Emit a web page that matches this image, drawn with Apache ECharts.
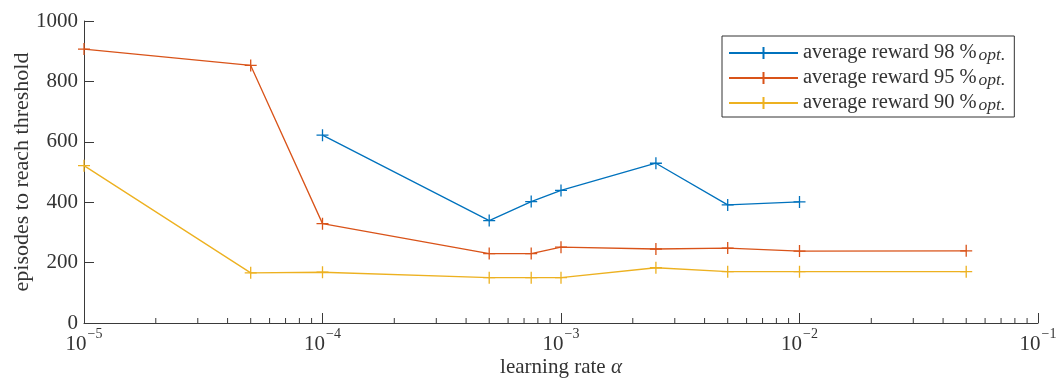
<!DOCTYPE html>
<html>
<head>
<meta charset="utf-8">
<script src="https://cdn.jsdelivr.net/npm/echarts@6/dist/echarts.min.js"></script>
<style>
  html, body { margin: 0; padding: 0; background: #fff; }
  #chart { width: 1058px; height: 378px; }
</style>
</head>
<body>
<div id="chart"></div>
<script>
// Learning rates tested (log scale)
const learningRates = [1e-5, 5e-5, 1e-4, 5e-4, 7.5e-4, 1e-3, 2.5e-3, 5e-3, 1e-2, 5e-2];

// Episodes needed to reach each reward threshold (null = threshold never reached)
const reward98 = [null, null, 622, 339, 402, 439, 529, 391, 401, null];
const reward95 = [907, 853, 329, 230, 230, 251, 245, 248, 238, 239];
const reward90 = [521, 166, 168, 150, 150, 150, 183, 170, 170, 170];

const seriesNames = ['98', '95', '90'];
const seriesColors = ['#0072BD', '#D95319', '#EDB120'];

// Chosen learning rate, marked with a vertical line
const chosenRate = 5e-4;

// Minor ticks of the log axis: 2..9 × 10^k
const minorTickValues = [];
for (let k = -5; k <= -2; k++) {
  for (let m = 2; m <= 9; m++) minorTickValues.push(m * Math.pow(10, k));
}

const yTicks = { min: 0, max: 1000, interval: 200 };

const FONT = '"Liberation Serif", "Times New Roman", serif';
const TXT = '#333333';
const AXIS = '#3a3a3a';
const PLUS = 'path://M0,5L10,5M5,0L5,10';

function pairs(values) {
  return learningRates.map((x, i) => [x, values[i]]).filter(p => p[1] !== null);
}

const allValues = [reward98, reward95, reward90];

const lineSeries = allValues.map((vals, i) => ({
  name: 'r' + seriesNames[i],
  type: 'line',
  data: pairs(vals),
  symbol: PLUS,
  symbolSize: 12,
  showSymbol: true,
  lineStyle: { color: seriesColors[i], width: 1.3 },
  itemStyle: { color: seriesColors[i], borderColor: seriesColors[i], borderWidth: 1.3 },
  emphasis: { disabled: true },
  z: 3 + (2 - i),
  animation: false
}));

// Vertical reference line at the chosen learning rate
lineSeries[0].markLine = {
  silent: true,
  symbol: ['none', 'none'],
  label: { show: false },
  lineStyle: { color: '#808080', width: 1, type: 'solid' },
  data: [{ xAxis: chosenRate }],
  animation: false
};

const minorTickSeries = {
  type: 'custom',
  silent: true,
  data: minorTickValues.map(v => [v, 0]),
  renderItem: function (params, api) {
    const p = api.coord([api.value(0), api.value(1)]);
    return {
      type: 'line',
      shape: { x1: p[0], y1: p[1], x2: p[0], y2: p[1] - 5 },
      style: { stroke: AXIS, lineWidth: 1 }
    };
  },
  z: 2,
  animation: false
};

const chart = echarts.init(document.getElementById('chart'), null, { renderer: 'canvas' });

chart.setOption({
  backgroundColor: '#ffffff',
  animation: false,
  grid: { left: 84, right: 20, top: 21, bottom: 55, containLabel: false, outerBoundsMode: 'none' },
  legend: {
    orient: 'vertical',
    left: 722,
    top: 36,
    data: lineSeries.map(s => s.name),
    itemWidth: 69,
    itemHeight: 15,
    itemGap: 1,
    padding: [4, 9, 3, 6],
    borderColor: '#333333',
    borderWidth: 1,
    backgroundColor: '#ffffff',
    selectedMode: false,
    formatter: function (name) {
      return '{n|average reward ' + name.slice(1) + ' %}{o|opt.}';
    },
    textStyle: {
      color: TXT,
      fontFamily: FONT,
      lineHeight: 22,
      rich: {
        n: { fontFamily: FONT, fontSize: 20.5, color: TXT, lineHeight: 22, verticalAlign: 'middle' },
        o: { fontFamily: FONT, fontSize: 17.5, fontStyle: 'italic', color: TXT, lineHeight: 12, verticalAlign: 'bottom', padding: [6, 0, 0, 2] }
      }
    }
  },
  xAxis: {
    type: 'log',
    logBase: 10,
    min: 1e-5,
    max: 1e-1,
    splitNumber: 4,
    name: '{a|learning rate }{g|α}',
    nameLocation: 'middle',
    nameGap: 34,
    nameMoveOverlap: false,
    nameTextStyle: {
      color: TXT,
      fontFamily: FONT,
      rich: {
        a: { fontFamily: FONT, fontSize: 21, color: TXT },
        g: { fontFamily: FONT, fontSize: 21, fontStyle: 'italic', color: TXT }
      }
    },
    axisLine: { show: true, lineStyle: { color: AXIS, width: 1 } },
    axisTick: { show: true, inside: true, length: 10, lineStyle: { color: AXIS, width: 1 } },
    splitLine: { show: false },
    axisLabel: {
      margin: 4,
      color: TXT,
      fontFamily: FONT,
      formatter: function (v) {
        const e = Math.round(Math.log10(v));
        return '{b|10}{s|−' + Math.abs(e) + '}';
      },
      rich: {
        b: { fontFamily: FONT, fontSize: 21, color: TXT, lineHeight: 28, verticalAlign: 'bottom' },
        s: { fontFamily: FONT, fontSize: 14, color: TXT, lineHeight: 14, verticalAlign: 'top', padding: [0, 0, 0, 1] }
      }
    }
  },
  yAxis: {
    type: 'value',
    min: yTicks.min,
    max: yTicks.max,
    interval: yTicks.interval,
    name: 'episodes to reach threshold',
    nameLocation: 'middle',
    nameGap: 51,
    nameMoveOverlap: false,
    nameTextStyle: { color: TXT, fontFamily: FONT, fontSize: 22 },
    axisLine: { show: true, lineStyle: { color: AXIS, width: 1 } },
    axisTick: { show: true, inside: true, length: 10, lineStyle: { color: AXIS, width: 1 } },
    splitLine: { show: false },
    axisLabel: {
      margin: 6, color: TXT, fontFamily: FONT, fontSize: 21,
      formatter: function (v) { return String(v); }
    }
  },
  series: lineSeries.concat([minorTickSeries])
});
</script>
</body>
</html>
